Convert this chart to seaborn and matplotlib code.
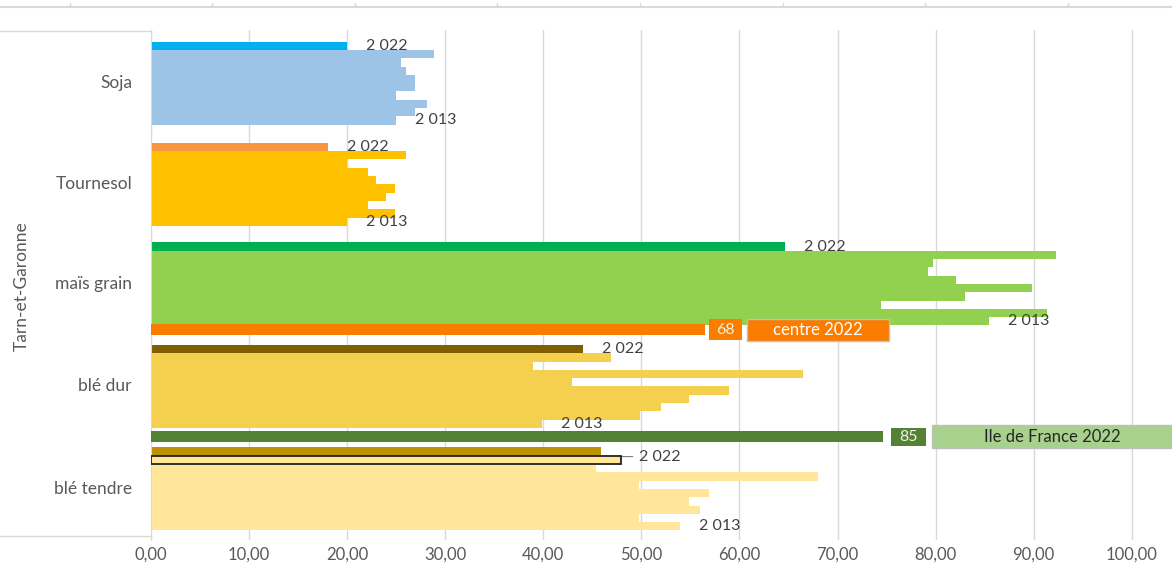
import matplotlib
matplotlib.use("Agg")
import matplotlib.pyplot as plt
import matplotlib.transforms as mtransforms
from matplotlib.lines import Line2D
from matplotlib.patches import Rectangle
import numpy as np
import pandas as pd
import seaborn as sns

# rendements (q/ha) Tarn-et-Garonne, 2022 en haut puis 2021 ... 2013
crops = ["Soja", "Tournesol", "maïs grain", "blé dur", "blé tendre"]
years = [2022, 2021, 2020, 2019, 2018, 2017, 2016, 2015, 2014, 2013]
soja = [20.0, 28.9, 25.5, 26.0, 26.9, 26.9, 25.0, 28.1, 26.9, 25.0]
tournesol = [18.0, 26.0, 20.0, 22.1, 22.9, 24.9, 24.0, 22.1, 24.9, 20.0]
mais = [64.6, 92.3, 79.7, 79.2, 82.1, 89.8, 83.0, 74.4, 91.4, 85.4]
ble_dur = [44.0, 46.9, 38.9, 66.5, 42.9, 58.9, 54.9, 52.0, 49.9, 39.9]
ble_tendre = [45.9, 47.9, 45.4, 68.0, 49.8, 56.9, 54.9, 56.0, 49.8, 53.9]
series = [soja, tournesol, mais, ble_dur, ble_tendre]

# barres régionales 2022
region_names = ["centre 2022", "Ile de France 2022"]
region_bars = [56.5, 74.6]
region_labels = ["68", "85"]

xticks = [0, 10, 20, 30, 40, 50, 60, 70, 80, 90, 100]

# styles
col_2022 = ["#00b0f0", "#f8953f", "#00b050", "#7f6000", "#bf9000"]
col_other = ["#9dc3e6", "#ffc000", "#92d050", "#f5d04e", "#ffe699"]
region_col = ["#fb7d00", "#548235"]
region_box = ["#fb7d00", "#a9d18e"]
region_txt = ["white", "#262626"]
txt_col = "#404040"
cat_col = "#595959"

# layout (in bar slots, 1 slot = one year bar)
group_top = [1.4, 13.6, 25.6, 37.95, 50.3]
region_after = [2, 3]
region_gap = [0.5, 1.05]

sns.set_style("white")
plt.rcParams["font.family"] = ["Lato", "DejaVu Sans"]

fig = plt.figure(figsize=(11.72, 5.73), dpi=100)
ax = fig.add_axes([151 / 1172, 33 / 573, 1 - 151 / 1172, 510 / 573])

for i, vals in enumerate(series):
    top = group_top[i]
    df = pd.DataFrame({"value": vals,
                       "pos": top + np.arange(len(vals)) + 0.5,
                       "kind": ["2022"] + ["autre"] * (len(vals) - 1)})
    sns.barplot(data=df, x="value", y="pos", hue="kind", orient="y",
                native_scale=True, width=1, dodge=False, errorbar=None,
                palette={"2022": col_2022[i], "autre": col_other[i]},
                saturation=1, linewidth=0, legend=False, ax=ax)

# cadre noir autour de la barre 2021 du blé tendre
bt_top = group_top[4]
sns.barplot(x=[ble_tendre[1]], y=[bt_top + 1.5], orient="y", native_scale=True,
            width=1, fill=False, color="#202020", linewidth=1.3,
            errorbar=None, ax=ax, zorder=3)

region_pos = []
for k, g in enumerate(region_after):
    pos = group_top[g] + 10 + region_gap[k]
    region_pos.append(pos)
    sns.barplot(x=[region_bars[k]], y=[pos], orient="y", native_scale=True,
                width=1.3, color=region_col[k], saturation=1, linewidth=0,
                errorbar=None, ax=ax, zorder=4)

ax.set_xlim(0, 104.1)
ax.set_ylim(61.45, 0)
ax.set_xticks(xticks)
ax.set_xticklabels([f"{t:.2f}".replace(".", ",") for t in xticks])
ax.set_yticks([])
ax.set_xlabel("")
ax.set_ylabel("")
ax.tick_params(axis="x", length=0, pad=5, labelcolor=cat_col, labelsize=12)
ax.grid(axis="x", color="#d9d9d9", lw=1)
ax.set_axisbelow(True)
for s in ["top", "right", "bottom"]:
    ax.spines[s].set_visible(False)
ax.spines["left"].set_color("#d9d9d9")

# étiquettes d'années
for i, vals in enumerate(series):
    top = group_top[i]
    for k in (0, len(vals) - 1):
        lab = f"{years[k]:,}".replace(",", " ")
        if i == 4 and k == 0:
            ax.annotate(lab, xy=(ble_tendre[1], top + 1.1), xytext=(18, 0),
                        textcoords="offset pixels", ha="left", va="center",
                        fontsize=11.5, color=txt_col, zorder=2,
                        arrowprops=dict(arrowstyle="-", color="#7f7f7f", lw=0.8,
                                        shrinkA=2, shrinkB=0))
        else:
            ax.annotate(lab, xy=(vals[k], top + k + 0.5), xytext=(19, 0),
                        textcoords="offset pixels", ha="left", va="center",
                        fontsize=11.5, color=txt_col, zorder=2)

# boîtes des barres régionales
fig.canvas.draw()
p0 = ax.transData.transform((0, 0))
p1 = ax.transData.transform((1, 1))
xpx = p1[0] - p0[0]
ypx = abs(p1[1] - p0[1])
val_box = [(3.7, 33, 21), (8, 35, 18)]
name_box = [(41.7, 142, 22), (49, 242, 23)]
for k in range(len(region_names)):
    v, pos = region_bars[k], region_pos[k]
    dx, w, h = val_box[k]
    ax.add_patch(Rectangle((v + dx / xpx, pos - h / 2 / ypx), w / xpx, h / ypx,
                           facecolor=region_col[k], edgecolor="none", zorder=5))
    ax.text(v + (dx + w / 2) / xpx, pos, region_labels[k], ha="center",
            va="center", fontsize=11.5, color="#eef2e8", zorder=6)
    dx, w, h = name_box[k]
    ax.add_patch(Rectangle((v + dx / xpx, pos - h / 2 / ypx), w / xpx, h / ypx,
                           facecolor=region_box[k], edgecolor="#bfbfbf", lw=1,
                           zorder=5, clip_on=False))
    ax.text(v + (dx + w / 2) / xpx, pos, region_names[k], ha="center",
            va="center", fontsize=12, color=region_txt[k], zorder=6,
            clip_on=False)

# libellés des catégories
trans = mtransforms.blended_transform_factory(fig.transFigure, ax.transData)
for i, c in enumerate(crops):
    ax.text(132 / 1172, group_top[i] + 5, c, transform=trans,
            ha="right", va="center", fontsize=12.5, color=cat_col)
fig.text(22 / 1172, 1 - 286 / 573, "Tarn-et-Garonne", rotation=90,
         ha="center", va="center", fontsize=12.5, color=cat_col)

# cadre du niveau de catégorie et axe d'un graphique superposé
for yy in (31, 536):
    fig.add_artist(Line2D([0, 151 / 1172], [1 - yy / 573] * 2, color="#d9d9d9",
                          lw=1, transform=fig.transFigure))
fig.add_artist(Line2D([0, 1], [1 - 7 / 573] * 2, color="#d9d9d9", lw=1.5,
                      transform=fig.transFigure))
for t in np.arange(69.5, 1172, 142.6):
    fig.add_artist(Line2D([t / 1172] * 2, [1 - 7 / 573, 1 - 3 / 573],
                          color="#d9d9d9", lw=1, transform=fig.transFigure))

fig.savefig("out.png", dpi=100, facecolor="white")
